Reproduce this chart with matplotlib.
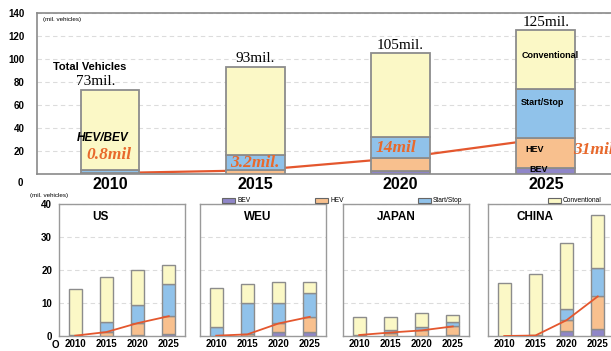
import matplotlib
matplotlib.use('Agg')
import matplotlib.pyplot as plt
from matplotlib.patches import Rectangle
import numpy as np

plt.rcParams['font.family'] = ['Liberation Sans', 'DejaVu Sans']

# Cores dos segmentos
COR_BEV = '#8f86c8'
COR_HEV = '#f8c08e'
COR_SS = '#90c2ea'
COR_CONV = '#fbf8c6'
COR_BORDA = '#8c8c8c'
COR_LINHA = '#e4572e'
COR_TXT = '#e8692c'

anos = ['2010', '2015', '2020', '2025']

# Mundo (milhões de veículos)
total_mundo = [73, 93, 105, 125]
bev_mundo = [0.1, 0.4, 3, 5]
hev_mundo = [0.7, 2.8, 11, 26]
ss_mundo = [3, 13, 18, 43]
conv_mundo = [69.2, 76.8, 73, 51]
rotulos_hibridos = ['0.8mil', '3.2mil.', '14mil', '31mil']

# Regiões
us_bev = [0.0, 0.1, 0.2, 0.5]
us_hev = [0.1, 1.1, 3.7, 5.5]
us_ss = [0.2, 2.9, 5.4, 9.8]
us_conv = [13.8, 13.9, 10.7, 5.6]

weu_bev = [0.0, 0.1, 1.2, 1.2]
weu_hev = [0.1, 0.4, 2.6, 4.6]
weu_ss = [2.6, 9.6, 6.3, 7.3]
weu_conv = [11.7, 5.7, 6.4, 3.4]

jp_bev = [0.0, 0.05, 0.1, 0.2]
jp_hev = [0.3, 1.0, 1.6, 2.7]
jp_ss = [0.1, 0.7, 1.1, 1.4]
jp_conv = [5.4, 4.05, 4.1, 2.2]

cn_bev = [0.0, 0.05, 1.5, 2.0]
cn_hev = [0.0, 0.1, 3.3, 10.0]
cn_ss = [0.0, 0.1, 3.3, 8.7]
cn_conv = [16.1, 18.65, 20.2, 15.9]

regioes = [
    ('US', us_bev, us_hev, us_ss, us_conv, 0.33),
    ('WEU', weu_bev, weu_hev, weu_ss, weu_conv, 0.46),
    ('JAPAN', jp_bev, jp_hev, jp_ss, jp_conv, 0.42),
    ('CHINA', cn_bev, cn_hev, cn_ss, cn_conv, 0.37),
]


def barras_empilhadas(ax, x, partes, largura, lw):
    base = np.zeros(len(x))
    for valores, cor in zip(partes, [COR_BEV, COR_HEV, COR_SS, COR_CONV]):
        ax.bar(x, valores, largura, bottom=base, color=cor,
               edgecolor=COR_BORDA, linewidth=lw, zorder=3)
        base = base + np.array(valores)
    return base


fig = plt.figure(figsize=(6.11, 3.51), dpi=100)
W, H = 611, 351

# ---- gráfico principal ----
ax = fig.add_axes([37 / W, 1 - 174 / H, 596 / W, 161 / H])
x = np.arange(len(anos))
barras_empilhadas(ax, x, [bev_mundo, hev_mundo, ss_mundo, conv_mundo], 0.405, 1.3)
hib = np.array(bev_mundo) + np.array(hev_mundo)
ax.plot(x, hib, color=COR_LINHA, lw=1.6, zorder=2)

ax.set_xlim(-0.503, 3.6)
ax.set_ylim(0, 140)
ax.set_yticks(range(20, 141, 20))
ax.set_xticks(x)
ax.set_xticklabels(anos, fontsize=11.5, fontweight='bold')
ax.tick_params(axis='x', length=0, pad=2)
ax.tick_params(axis='y', length=0, labelsize=7, pad=9)
for lab in ax.get_yticklabels():
    lab.set_fontweight('bold')
ax.grid(axis='y', color='#dcdcdc', linestyle=(0, (4, 3)), lw=0.8, zorder=0)
for s in ax.spines.values():
    s.set_color('#8a8a8a')
    s.set_linewidth(1.2)
fig.text(20 / W, 1 - 183 / H, '0', fontsize=7, fontweight='bold', ha='center', va='center')
ax.text(-0.46, 134, '(mil. vehicles)', fontsize=4.5, va='center')

ax.text(-0.14, 93, 'Total Vehicles', fontsize=8, fontweight='bold', ha='center', va='center')
for i, t in enumerate(total_mundo):
    dx = -0.1 if i == 0 else 0
    ax.text(i + dx, t + 1.5, f'{t}mil.', family='Liberation Serif', fontsize=11,
            ha='center', va='bottom', zorder=5)

ax.text(-0.05, 31, 'HEV/BEV', fontsize=8.5, fontweight='bold', style='italic', ha='center', va='center', zorder=5)
# deslocamento de cada rótulo em relação à barra
pos_rotulos = [(-0.01, 16.5, 'center'), (0, 9.5, 'center'), (-0.03, 22.6, 'center'), (0.19, 21, 'left')]
for i, ((dx, py, ha), txt) in enumerate(zip(pos_rotulos, rotulos_hibridos)):
    ax.text(i + dx, py, txt, family='Liberation Serif', fontsize=12.5, fontweight='bold',
            style='italic', color=COR_TXT, ha=ha, va='center', zorder=5)

for txt, px, py in [('Conventional', 3.03, 103), ('Start/Stop', 2.98, 62),
                    ('HEV', 2.92, 21), ('BEV', 2.95, 3.5)]:
    ax.text(px, py, txt, fontsize=6.5, fontweight='bold', ha='center', va='center', zorder=5)

# ---- legenda ----
itens = [('BEV', COR_BEV, 222), ('HEV', COR_HEV, 315), ('Start/Stop', COR_SS, 418), ('Conventional', COR_CONV, 548)]
for nome, cor, px in itens:
    fig.patches.append(Rectangle((px / W, 1 - 203 / H), 13 / W, 5 / H, transform=fig.transFigure,
                                 facecolor=cor, edgecolor='#666666', lw=0.8))
    fig.text((px + 15) / W, 1 - 200 / H, nome, fontsize=4.8, va='center')

# ---- painéis regionais ----
lefts = [59, 200, 343, 488]
for (nome, b, h, s, c, tx), lx in zip(regioes, lefts):
    a = fig.add_axes([lx / W, 1 - 336 / H, 126 / W, 132 / H])
    barras_empilhadas(a, x, [b, h, s, c], 0.42, 1.0)
    a.plot(x, np.array(b) + np.array(h), color=COR_LINHA, lw=1.3, zorder=4)
    a.set_xlim(-0.52, 3.52)
    a.set_ylim(0, 40)
    a.set_yticks([0, 10, 20, 30, 40])
    a.set_xticks(x)
    a.set_xticklabels(anos, fontsize=7, fontweight='bold')
    a.tick_params(axis='x', length=0, pad=2)
    a.tick_params(axis='y', length=0, labelsize=7, pad=5)
    if nome == 'US':
        for lab in a.get_yticklabels():
            lab.set_fontweight('bold')
    else:
        a.set_yticklabels([])
    a.grid(axis='y', color='#dcdcdc', linestyle=(0, (4, 3)), lw=0.8, zorder=0)
    for sp in a.spines.values():
        sp.set_color('#9a9a9a')
        sp.set_linewidth(1.0)
    a.text(tx, 0.9, nome, transform=a.transAxes, fontsize=8.5, fontweight='bold', ha='center', va='center')

fig.text(30 / W, 1 - 196 / H, '(mil. vehicles)', fontsize=4.5, va='center')
fig.text(55 / W, 1 - 345 / H, 'O', fontsize=7, fontweight='bold', ha='center', va='center')

fig.savefig('out.png', dpi=100)
